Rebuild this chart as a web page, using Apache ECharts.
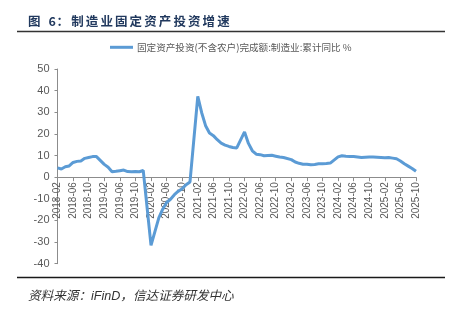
<!DOCTYPE html>
<html>
<head>
<meta charset="utf-8">
<script src="https://cdn.jsdelivr.net/npm/echarts@6/dist/echarts.min.js"></script>
<style>
  html, body { margin: 0; padding: 0; background: #fff; }
  #chart { width: 455px; height: 324px; }
</style>
</head>
<body>
<div id="chart"></div>
<script>
// Manufacturing fixed-asset investment, cumulative YoY growth (%), monthly.
// January is not published separately (Jan–Feb are reported together), so it is null.
const years = [2018, 2019, 2020, 2021, 2022, 2023, 2024, 2025];
const firstMonth = { 2018: 2 };
const lastMonth = { 2025: 10 };

const v2018 = [4.3, 3.8, 4.8, 5.2, 6.8, 7.3, 7.5, 8.7, 9.1, 9.5, 9.5];            // Feb–Dec
const v2019 = [null, 5.9, 4.6, 2.5, 2.7, 3.0, 3.3, 2.6, 2.5, 2.6, 2.5, 3.1];
const v2020 = [null, -31.5, -25.2, -18.8, -14.8, -11.7, -10.2, -8.1, -6.5, -5.3, -3.5, -2.2];
const v2021 = [null, 37.3, 29.8, 23.8, 20.4, 19.2, 17.3, 15.7, 14.8, 14.2, 13.7, 13.5];
const v2022 = [null, 20.9, 15.6, 12.2, 10.6, 10.4, 9.9, 10.0, 10.1, 9.7, 9.3, 9.1];
const v2023 = [null, 8.1, 7.0, 6.4, 6.0, 6.0, 5.7, 5.9, 6.2, 6.2, 6.3, 6.5];
const v2024 = [null, 9.4, 9.9, 9.7, 9.6, 9.5, 9.3, 9.1, 9.2, 9.3, 9.3, 9.2];
const v2025 = [null, 9.0, 9.1, 8.8, 8.5, 7.5, 6.2, 5.1, 4.0, 2.7];                  // Jan–Oct

const seriesName = '固定资产投资(不含农户)完成额:制造业:累计同比 %';
const titleText = '图 6：制造业固定资产投资增速';
const sourceText = '资料来源：iFinD，信达证券研发中心';
const yTicks = { min: -40, max: 50, step: 10 };

// Month labels "YYYY-MM"
const categories = [];
years.forEach(y => {
  const m0 = firstMonth[y] || 1;
  const m1 = lastMonth[y] || 12;
  for (let m = m0; m <= m1; m++) categories.push(y + '-' + String(m).padStart(2, '0'));
});
const values = [].concat(v2018, v2019, v2020, v2021, v2022, v2023, v2024, v2025);

const lineColor = '#5B9BD5';
const axisColor = '#8C8C8C';
const labelColor = '#595959';
const numFont = '"Liberation Sans", Arial, "Noto Sans CJK SC", sans-serif';

// plot box
const W = 455, H = 324;
const gridBox = { left: 57.5, right: 39, top: 69, bottom: 60.3 };
const plotH = H - gridBox.top - gridBox.bottom;
// lift the category axis (line, ticks and labels) up to the zero value
const zeroLift = plotH * (0 - yTicks.min) / (yTicks.max - yTicks.min);

// letter-spaced heading: each character sits in a fixed-width rich token
const titleStyleBase = {
  fontFamily: '"Noto Sans CJK SC", sans-serif',
  fontSize: 12.5,
  fontWeight: 'bold',
  color: '#21395e'
};
const titleRich = titleText.split('').map(c => {
  const key = c === ' ' ? 's' : (/[0-9]/.test(c) ? 'd' : 'c');
  return '{' + key + '|' + c + '}';
}).join('');

const chart = echarts.init(document.getElementById('chart'), null, { renderer: 'canvas' });
chart.setOption({
  animation: false,
  backgroundColor: '#ffffff',
  title: {
    text: titleRich,
    left: 28,
    top: 15,
    padding: 0,
    textStyle: {
      rich: {
        c: Object.assign({ width: 14.6 }, titleStyleBase),
        d: Object.assign({ width: 8 }, titleStyleBase),
        s: Object.assign({ width: 6 }, titleStyleBase)
      }
    }
  },
  legend: {
    left: 110,
    top: 42.5,
    padding: 0,
    icon: 'rect',
    itemWidth: 23,
    itemHeight: 3,
    itemGap: 10,
    textStyle: {
      fontFamily: '"Noto Sans CJK SC", sans-serif',
      fontSize: 9.6,
      color: labelColor,
      padding: [0, 0, 0, -1]
    },
    data: [seriesName]
  },
  grid: { left: gridBox.left, right: gridBox.right, top: gridBox.top, bottom: gridBox.bottom, containLabel: false },
  xAxis: {
    type: 'category',
    data: categories,
    boundaryGap: false,
    offset: -zeroLift,
    axisLine: { onZero: false, lineStyle: { color: axisColor, width: 1 } },
    axisTick: { interval: 3, length: 4, lineStyle: { color: axisColor } },
    axisLabel: {
      interval: 3,
      rotate: 90,
      margin: 5,
      fontFamily: numFont,
      fontSize: 10,
      color: labelColor
    },
    splitLine: { show: false }
  },
  yAxis: {
    type: 'value',
    min: yTicks.min,
    max: yTicks.max,
    interval: yTicks.step,
    axisLine: { show: true, lineStyle: { color: axisColor, width: 1 } },
    axisTick: { show: true, length: 3, lineStyle: { color: axisColor } },
    axisLabel: {
      margin: 8,
      fontFamily: numFont,
      fontSize: 11,
      color: labelColor
    },
    splitLine: { show: false }
  },
  series: [{
    name: seriesName,
    type: 'line',
    data: values,
    connectNulls: true,
    showSymbol: false,
    symbol: 'none',
    z: 5,
    lineStyle: { color: lineColor, width: 3 },
    itemStyle: { color: lineColor }
  }],
  graphic: [
    {
      type: 'line',
      shape: { x1: 17, y1: 31.5, x2: 445, y2: 31.5 },
      style: { stroke: '#333333', lineWidth: 1.3 },
      silent: true
    },
    {
      type: 'line',
      shape: { x1: 17, y1: 277.5, x2: 445, y2: 277.5 },
      style: { stroke: '#1a1a1a', lineWidth: 1.6 },
      silent: true
    },
    {
      type: 'text',
      left: 28,
      top: 290.5,
      style: {
        text: sourceText,
        fontFamily: '"Liberation Sans", Arial, "Noto Sans CJK SC", sans-serif',
        fontSize: 12.6,
        fontStyle: 'italic',
        fill: '#333333'
      },
      silent: true
    }
  ]
});
</script>
</body>
</html>
